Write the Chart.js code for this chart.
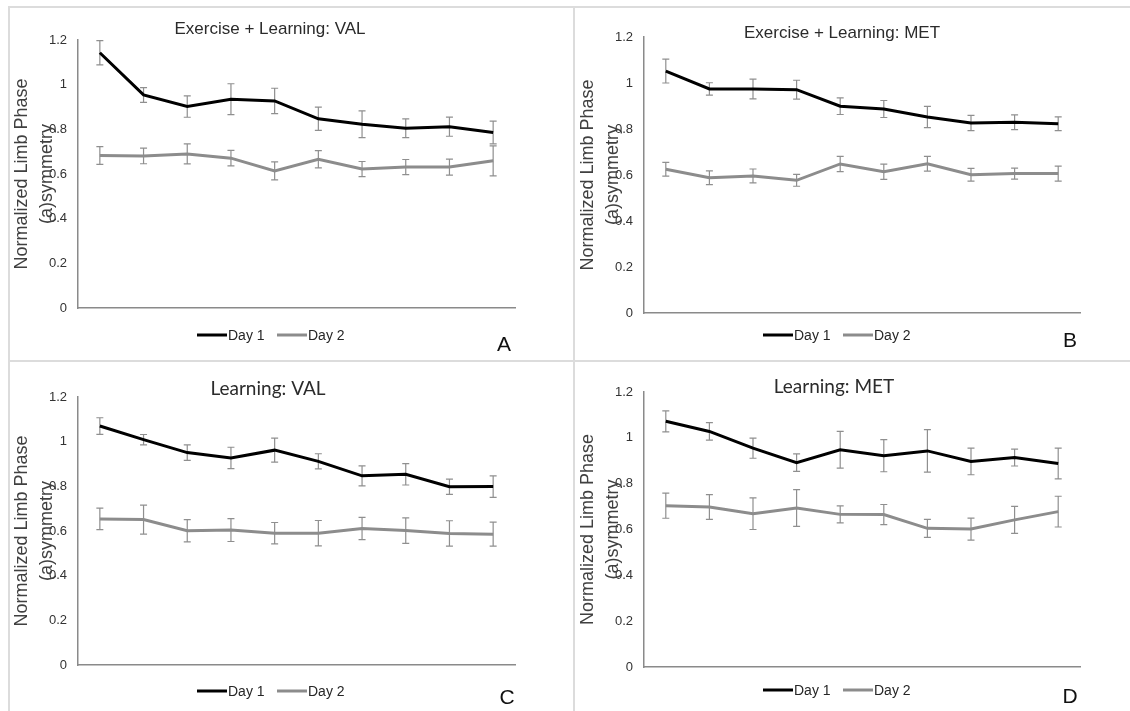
<!DOCTYPE html>
<html>
<head>
<meta charset="utf-8">
<script src="https://cdn.jsdelivr.net/npm/chart.js@4.4.1/dist/chart.umd.min.js"></script>
<style>
  body { margin: 0; background: #fff; }
  #wrap { position: relative; width: 1130px; height: 711px; overflow: hidden; background: #fff; }
  #wrap canvas { position: absolute; }
  .ln { position: absolute; background: #dcdcdc; z-index: 2; }
</style>
</head>
<body>
<div id="wrap">
  <div class="ln" style="left:8px;top:6px;width:1122px;height:2px"></div>
  <div class="ln" style="left:8px;top:6px;width:2px;height:705px"></div>
  <div class="ln" style="left:573px;top:6px;width:2px;height:705px"></div>
  <div class="ln" style="left:8px;top:360px;width:1122px;height:2px"></div>
  <canvas id="chartA" width="573" height="360" style="left:0;top:0"></canvas>
  <canvas id="chartB" width="555" height="360" style="left:575px;top:0"></canvas>
  <canvas id="chartC" width="573" height="349" style="left:0;top:362px"></canvas>
  <canvas id="chartD" width="555" height="349" style="left:575px;top:362px"></canvas>
</div>
<script>
// sessions (no tick labels shown on the x axis)
const sessions = ['1', '2', '3', '4', '5', '6', '7', '8', '9', '10'];
const yTickLabels = ['0', '0.2', '0.4', '0.6', '0.8', '1', '1.2'];
const seriesNames = ['Day 1', 'Day 2'];

// A: Exercise + Learning: VAL
const exValDay1 = [1.143, 0.954, 0.902, 0.935, 0.927, 0.847, 0.823, 0.805, 0.812, 0.786];
const exValDay1Err = [0.054, 0.033, 0.048, 0.069, 0.057, 0.052, 0.060, 0.042, 0.043, 0.051];
const exValDay2 = [0.683, 0.681, 0.690, 0.671, 0.614, 0.666, 0.622, 0.631, 0.631, 0.659];
const exValDay2Err = [0.040, 0.035, 0.045, 0.035, 0.040, 0.039, 0.034, 0.034, 0.036, 0.067];

// B: Exercise + Learning: MET
const exMetDay1 = [1.052, 0.974, 0.974, 0.971, 0.899, 0.887, 0.852, 0.826, 0.829, 0.823];
const exMetDay1Err = [0.052, 0.027, 0.043, 0.041, 0.036, 0.037, 0.046, 0.033, 0.032, 0.030];
const exMetDay2 = [0.625, 0.588, 0.596, 0.577, 0.648, 0.614, 0.649, 0.601, 0.606, 0.606];
const exMetDay2Err = [0.030, 0.030, 0.030, 0.026, 0.033, 0.033, 0.032, 0.028, 0.024, 0.033];

// C: Learning: VAL
const lrnValDay1 = [1.070, 1.009, 0.951, 0.927, 0.962, 0.912, 0.847, 0.854, 0.798, 0.799];
const lrnValDay1Err = [0.037, 0.023, 0.035, 0.048, 0.054, 0.034, 0.045, 0.048, 0.034, 0.048];
const lrnValDay2 = [0.654, 0.651, 0.601, 0.604, 0.590, 0.590, 0.611, 0.602, 0.589, 0.586];
const lrnValDay2Err = [0.048, 0.065, 0.050, 0.051, 0.048, 0.057, 0.050, 0.057, 0.057, 0.054];

// D: Learning: MET
const lrnMetDay1 = [1.072, 1.028, 0.955, 0.892, 0.948, 0.922, 0.943, 0.897, 0.914, 0.888];
const lrnMetDay1Err = [0.046, 0.038, 0.044, 0.038, 0.080, 0.070, 0.093, 0.058, 0.037, 0.067];
const lrnMetDay2 = [0.704, 0.698, 0.669, 0.694, 0.666, 0.665, 0.605, 0.602, 0.642, 0.678];
const lrnMetDay2Err = [0.055, 0.054, 0.069, 0.080, 0.037, 0.044, 0.039, 0.048, 0.059, 0.067];

const FONT = "'Liberation Sans', Arial, sans-serif";
const TITLE_FONT_C = "Lato, 'Open Sans', sans-serif";

// layout per panel, in canvas coordinates
const panels = [
  { id: 'chartA', letter: 'A', title: 'Exercise + Learning: VAL', titleFont: FONT, titleSize: 17,
    titleX: 270, titleY: 29, area: { l: 78, t: 40, r: 515, b: 308 },
    legendY: 335, letterX: 504, letterY: 345,
    d1: exValDay1, e1: exValDay1Err, d2: exValDay2, e2: exValDay2Err },
  { id: 'chartB', letter: 'B', title: 'Exercise + Learning: MET', titleFont: FONT, titleSize: 17,
    titleX: 267, titleY: 33, area: { l: 69, t: 37, r: 505, b: 313 },
    legendY: 335, letterX: 495, letterY: 341,
    d1: exMetDay1, e1: exMetDay1Err, d2: exMetDay2, e2: exMetDay2Err },
  { id: 'chartC', letter: 'C', title: 'Learning: VAL', titleFont: TITLE_FONT_C, titleSize: 19,
    titleX: 268, titleY: 27, area: { l: 78, t: 35, r: 515, b: 303 },
    legendY: 329, letterX: 507, letterY: 336,
    d1: lrnValDay1, e1: lrnValDay1Err, d2: lrnValDay2, e2: lrnValDay2Err },
  { id: 'chartD', letter: 'D', title: 'Learning: MET', titleFont: TITLE_FONT_C, titleSize: 19,
    titleX: 259, titleY: 25, area: { l: 69, t: 30, r: 505, b: 305 },
    legendY: 328, letterX: 495, letterY: 335,
    d1: lrnMetDay1, e1: lrnMetDay1Err, d2: lrnMetDay2, e2: lrnMetDay2Err }
];

// vertical error bars with caps, drawn from the y scale
const errorBars = {
  id: 'errorBars',
  beforeDatasetsDraw(chart) {
    const ctx = chart.ctx;
    const y = chart.scales.y;
    ctx.save();
    ctx.strokeStyle = '#8f8f8f';
    ctx.lineWidth = 1.2;
    chart.data.datasets.forEach((ds, i) => {
      const meta = chart.getDatasetMeta(i);
      meta.data.forEach((pt, j) => {
        const v = ds.data[j], e = ds.errors[j];
        const yt = y.getPixelForValue(v + e);
        const yb = y.getPixelForValue(v - e);
        ctx.beginPath();
        ctx.moveTo(pt.x, yt); ctx.lineTo(pt.x, yb);
        ctx.moveTo(pt.x - 3.5, yt); ctx.lineTo(pt.x + 3.5, yt);
        ctx.moveTo(pt.x - 3.5, yb); ctx.lineTo(pt.x + 3.5, yb);
        ctx.stroke();
      });
    });
    ctx.restore();
  }
};

// title, rotated axis title, legend and panel letter
function makeDecor(p) {
  return {
    id: 'decor',
    afterDraw(chart) {
      const ctx = chart.ctx;
      const a = chart.chartArea;
      ctx.save();
      // title
      ctx.fillStyle = '#2b2b2b';
      ctx.font = p.titleSize + 'px ' + p.titleFont;
      ctx.textAlign = 'center';
      ctx.textBaseline = 'middle';
      ctx.fillText(p.title, p.titleX, p.titleY);

      // y axis title (two lines)
      const midY = (a.top + a.bottom) / 2;
      ctx.fillStyle = '#404040';
      ctx.font = '18px ' + FONT;
      [['Normalized Limb Phase', a.left - 56], ['(a)symmetry', a.left - 31]].forEach(([txt, cx]) => {
        ctx.save();
        ctx.translate(cx, midY);
        ctx.rotate(-Math.PI / 2);
        ctx.fillText(txt, 0, 0);
        ctx.restore();
      });

      // legend
      ctx.font = '14px ' + FONT;
      ctx.textAlign = 'left';
      let x = a.left + 119;
      chart.data.datasets.forEach((ds) => {
        ctx.strokeStyle = ds.borderColor;
        ctx.lineWidth = 3;
        ctx.beginPath();
        ctx.moveTo(x, p.legendY); ctx.lineTo(x + 30, p.legendY);
        ctx.stroke();
        ctx.fillStyle = '#262626';
        ctx.fillText(ds.label, x + 31, p.legendY + 1);
        x += 80;
      });

      // panel letter
      ctx.fillStyle = '#111';
      ctx.font = '21px ' + FONT;
      ctx.textAlign = 'center';
      ctx.fillText(p.letter, p.letterX, p.letterY);
      ctx.restore();
    }
  };
}

panels.forEach((p) => {
  const cv = document.getElementById(p.id);
  const W = cv.width, H = cv.height;
  new Chart(cv, {
    type: 'line',
    data: {
      labels: sessions,
      datasets: [
        { label: seriesNames[0], data: p.d1, errors: p.e1, borderColor: '#000000',
          borderWidth: 3, pointRadius: 0, tension: 0, fill: false },
        { label: seriesNames[1], data: p.d2, errors: p.e2, borderColor: '#8c8c8c',
          borderWidth: 3, pointRadius: 0, tension: 0, fill: false }
      ]
    },
    options: {
      responsive: false,
      animation: false,
      events: [],
      layout: { padding: { left: 0, top: p.area.t, right: W - p.area.r, bottom: 0 } },
      plugins: {
        legend: { display: false },
        title: { display: false },
        tooltip: { enabled: false }
      },
      scales: {
        x: {
          type: 'category',
          offset: true,
          grid: { display: false, drawTicks: false },
          border: { display: true, color: '#8a8a8a', width: 1.5 },
          ticks: { display: false },
          afterFit: (s) => { s.height = H - p.area.b; }
        },
        y: {
          min: 0,
          max: 1.2,
          grid: { display: false, drawTicks: false },
          border: { display: true, color: '#8a8a8a', width: 1.5 },
          ticks: {
            stepSize: 0.2,
            padding: 11,
            color: '#333333',
            font: { family: FONT, size: 13 },
            callback: (v, i) => yTickLabels[i]
          },
          afterFit: (s) => { s.width = p.area.l; }
        }
      }
    },
    plugins: [errorBars, makeDecor(p)]
  });
});
</script>
</body>
</html>
